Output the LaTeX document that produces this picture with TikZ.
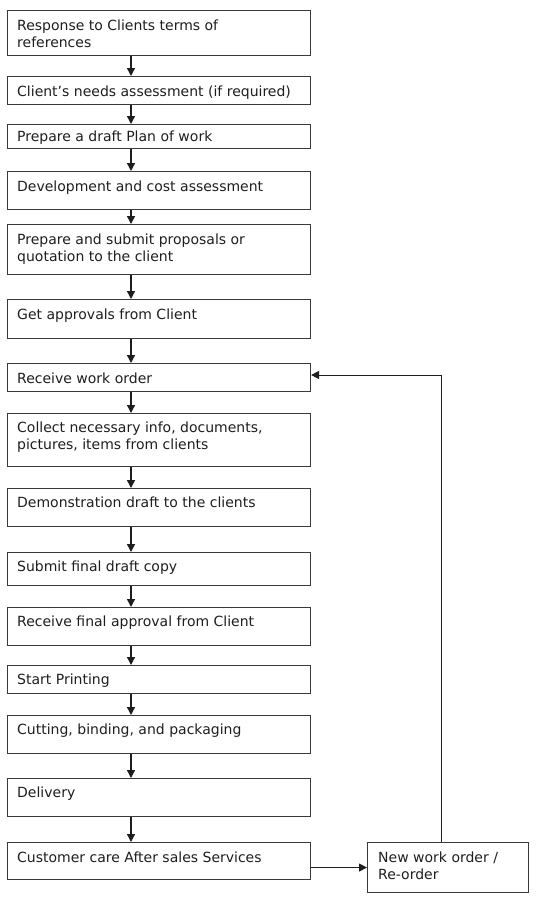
\documentclass[tikz,border=0pt]{standalone}
\usepackage{fontspec}
\setmainfont{DejaVu Sans}
\usetikzlibrary{calc,arrows.meta}
\definecolor{boxline}{HTML}{3A3A3A}
\definecolor{ink}{HTML}{1E1E1E}
\tikzset{
  box/.style={draw=boxline, line width=1.1pt, minimum width=303pt, inner sep=0pt, anchor=north west},
  rbox/.style={draw=boxline, line width=1.1pt, minimum width=161pt, minimum height=50pt, inner sep=0pt, anchor=north west},
  txt/.style={text=ink, font=\fontsize{14}{17}\selectfont, inner sep=0pt, anchor=north west, align=left},
  arr/.style={draw=ink, line width=1.3pt, -{Triangle[length=8pt,width=8pt]}},
  sidearr/.style={draw=ink, line width=1pt, -{Triangle[length=8pt,width=8pt]}}
}
\begin{document}
\begin{tikzpicture}[x=1pt,y=-1pt]
\useasboundingbox (0,0) rectangle (536,903);
% boxes
\node[box, minimum height=45pt] (b1) at (7,9.5) {};
\node[box, minimum height=28pt] (b2) at (7,76) {};
\node[box, minimum height=24pt] (b3) at (7,124) {};
\node[box, minimum height=38pt] (b4) at (7,171) {};
\node[box, minimum height=50pt] (b5) at (7,224) {};
\node[box, minimum height=39pt] (b6) at (7,299) {};
\node[box, minimum height=28pt] (b7) at (7,363) {};
\node[box, minimum height=53pt] (b8) at (7,413) {};
\node[box, minimum height=38pt] (b9) at (7,488) {};
\node[box, minimum height=33pt] (b10) at (7,552) {};
\node[box, minimum height=38pt] (b11) at (7,607) {};
\node[box, minimum height=28pt] (b12) at (7,665) {};
\node[box, minimum height=38pt] (b13) at (7,715) {};
\node[box, minimum height=38pt] (b14) at (7,778) {};
\node[box, minimum height=37pt] (b15) at (7,842) {};
\node[rbox] (r) at (367,842) {};
% texts
\node[txt] (t1) at ($(b1.north west)+(10,8.6)$) {\strut Response to Clients terms of\\\strut references};
\node[txt] (t2) at ($(b2.north west)+(10,8.8)$) {\strut Client’s needs assessment (if required)};
\node[txt] (t3) at ($(b3.north west)+(10,5.8)$) {\strut Prepare a draft Plan of work};
\node[txt] (t4) at ($(b4.north west)+(10,7.9)$) {\strut Development and cost assessment};
\node[txt] (t5) at ($(b5.north west)+(10,7.9)$) {\strut Prepare and submit proposals or\\\strut quotation to the client};
\node[txt] (t6) at ($(b6.north west)+(10,7.9)$) {\strut Get approvals from Client};
\node[txt] (t7) at ($(b7.north west)+(10,7.9)$) {\strut Receive work order};
\node[txt] (t8) at ($(b8.north west)+(10,7.3)$) {\strut Collect necessary info, documents,\\\strut pictures, items from clients};
\node[txt] (t9) at ($(b9.north west)+(10,7.6)$) {\strut Demonstration draft to the clients};
\node[txt] (t10) at ($(b10.north west)+(10,7.8)$) {\strut Submit final draft copy};
\node[txt] (t11) at ($(b11.north west)+(10,7.6)$) {\strut Receive final approval from Client};
\node[txt] (t12) at ($(b12.north west)+(10,7.3)$) {\strut Start Printing};
\node[txt] (t13) at ($(b13.north west)+(10,7.6)$) {\strut Cutting, binding, and packaging};
\node[txt] (t14) at ($(b14.north west)+(10,7.6)$) {\strut Delivery};
\node[txt] (t15) at ($(b15.north west)+(10,8.1)$) {\strut Customer care After sales Services};
\node[txt] (tr) at ($(r.north west)+(11,8.1)$) {\strut New work order /\\\strut Re-order};
% vertical arrows
\foreach \a/\b in {b1/b2,b2/b3,b3/b4,b4/b5,b5/b6,b6/b7,b7/b8,b8/b9,b9/b10,b10/b11,b11/b12,b12/b13,b13/b14,b14/b15}{
  \draw[arr] ($(\a.south west)+(124,0)$) -- ($(\b.north west)+(124,0)$);
}
% side arrows
\draw[sidearr] (b15.east |- r.west) -- (r.west);
\coordinate (turn) at ($(r.north west)+(74,-467)$);
\draw[sidearr] ($(r.north west)+(74,0)$) -- (turn) -- (turn -| b7.east);
\end{tikzpicture}
\end{document}
